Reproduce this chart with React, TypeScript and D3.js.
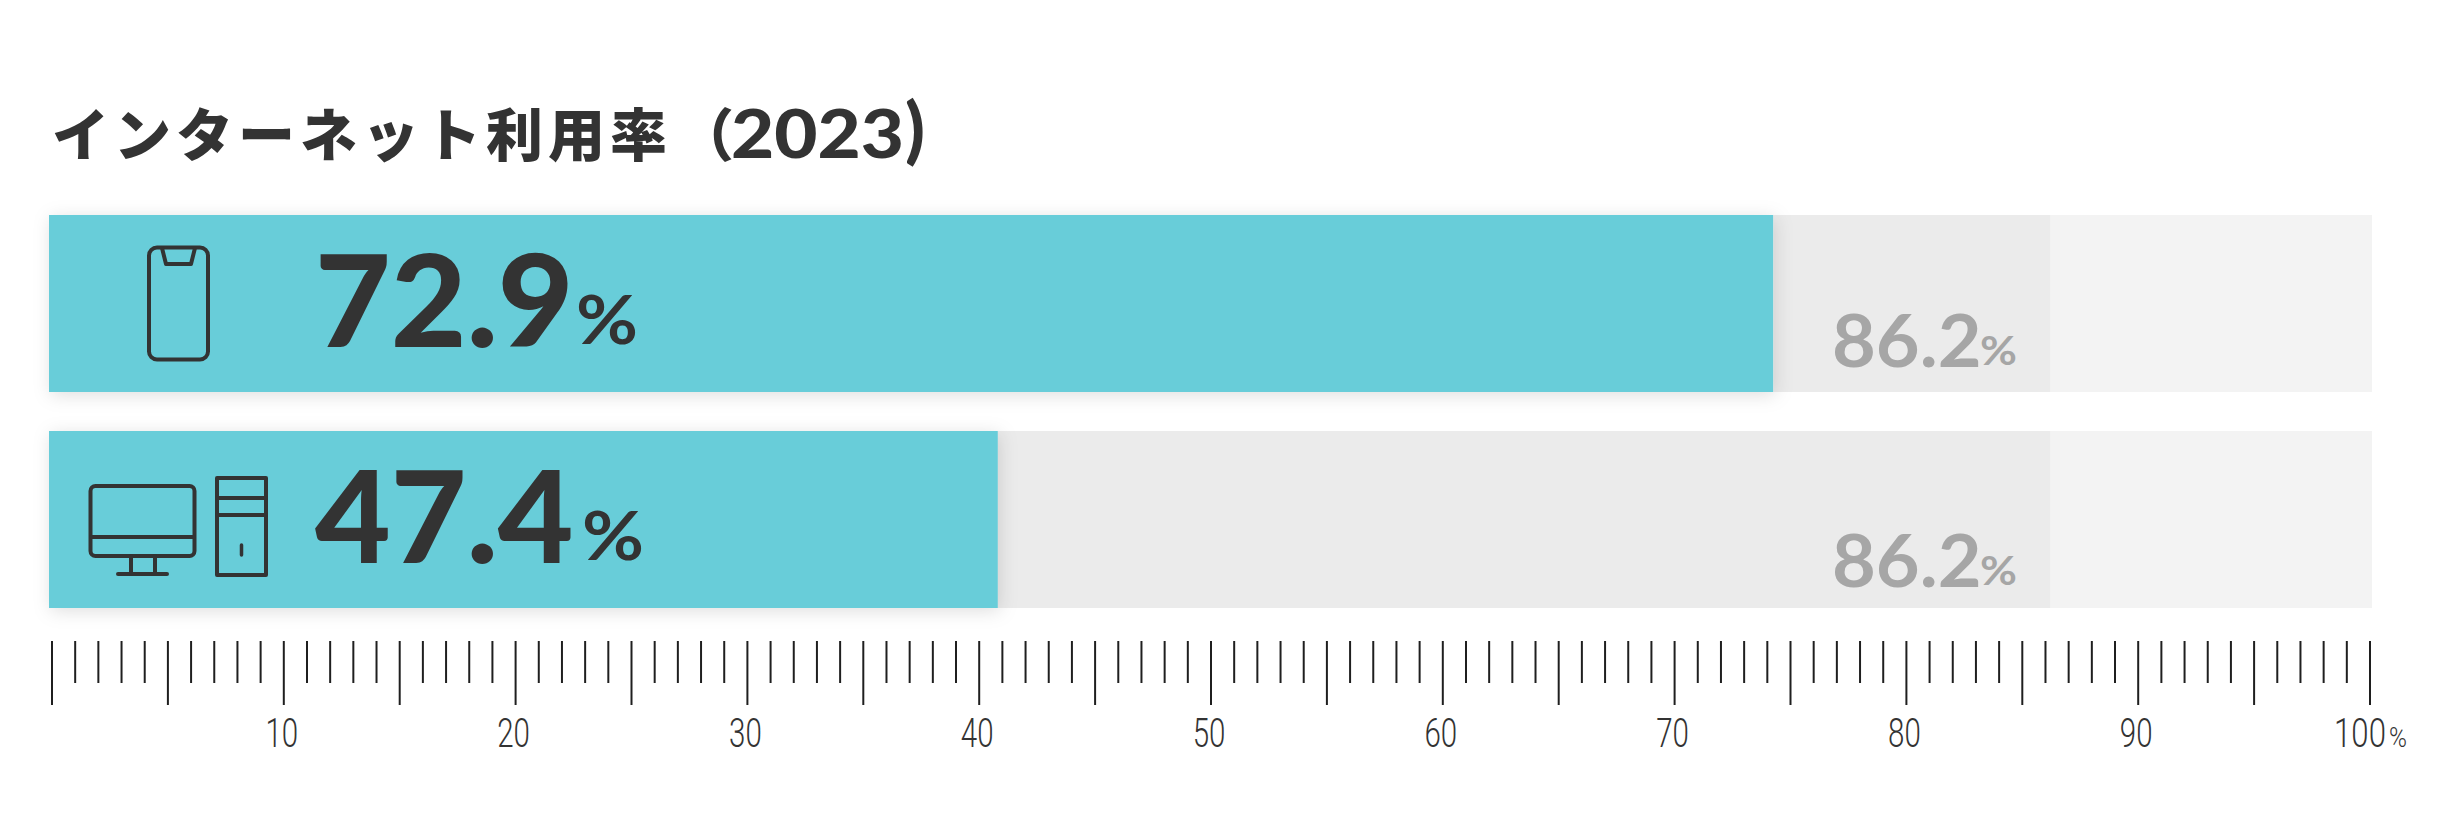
import React from "react";
import * as d3 from "d3";

const WIDTH = 2455;
const HEIGHT = 838;
const titleJa = "インターネット利用率";
const titleYear = "2023";
const rows = ["smartphone", "pc"];
const rowLabels = ["72.9", "47.4"];
const barExtents = [74.25, 40.8];
const referenceLabel = "86.2";
const referenceValue = 86.2;
const axisMax = 100;
const minorTicks = d3.range(0, axisMax + 1);
const labelledTicks = [10, 20, 30, 40, 50, 60, 70, 80, 90];

const DARK = "#333333";
const TEAL = "#67cdd9";
const GREY = "#a6a6a6";
const NUM = "Lato, sans-serif";
const THIN = "Roboto, sans-serif";
const JA = "'Noto Sans CJK JP', sans-serif";

const x = d3.scaleLinear().domain([0, axisMax]).range([52, 2370]);
const y = d3.scaleBand<string>().domain(rows).range([215, 608]).paddingInner(0.1807).paddingOuter(0);

function ScaledText({ px, py, sx = 1, anchor = "start", size, weight, fill, family, children }: any) {
  return (
    <text
      transform={`translate(${px},${py}) scale(${sx},1)`}
      textAnchor={anchor}
      fontSize={size}
      fontWeight={weight}
      fill={fill}
      fontFamily={family}
    >
      {children}
    </text>
  );
}

function PhoneIcon() {
  return (
    <g fill="none" stroke={DARK} strokeWidth={4} strokeLinejoin="round">
      <rect x={149} y={247.5} width={59} height={112} rx={8} />
      <path d="M162 248 L166 264 H191 L195 248" />
    </g>
  );
}

function PcIcon() {
  return (
    <g fill="none" stroke={DARK} strokeWidth={4} strokeLinejoin="round" strokeLinecap="round">
      <rect x={90.5} y={486} width={104} height={70} rx={5} />
      <path d="M91 537 H194 M131 556 V574 M155 556 V574 M118 574 H167" />
      <rect x={217} y={478} width={49} height={97} />
      <path d="M217 498 H266 M217 515 H266" />
      <path d="M241.5 545 V555" strokeWidth={3.5} />
    </g>
  );
}

export default function App() {
  const bw = y.bandwidth();
  return (
    <svg
      width={WIDTH}
      height={HEIGHT}
      viewBox={`0 0 ${WIDTH} ${HEIGHT}`}
      style={{ position: "absolute", left: 0, top: 0, display: "block", background: "#fff" }}
    >
      <defs>
        <filter id="barShadow" x="-5%" y="-30%" width="110%" height="160%">
          <feDropShadow dx={2} dy={3} stdDeviation={9} floodColor="#000" floodOpacity={0.13} />
        </filter>
      </defs>

      <text x={52} y={156} fontFamily={JA} fontWeight={900} fontSize={57} letterSpacing={5} fill={DARK}>
        {titleJa}
      </text>
      <text x={677} y={156} fontFamily={JA} fontWeight={900} fontSize={57} fill={DARK}>（</text>
      <ScaledText px={731} py={158} size={66} weight={900} fill={DARK} family={NUM} sx={1.13}>{titleYear}</ScaledText>
      <text x={905} y={155} fontFamily={NUM} fontWeight={900} fontSize={72} fill={DARK}>)</text>

      {rows.map((r, i) => {
        const top = y(r)!;
        const base = top + 132;
        return (
          <g key={r}>
            <rect x={49} y={top} width={2372 - 49} height={bw} fill="#f3f3f3" />
            <rect x={49} y={top} width={x(referenceValue) - 49} height={bw} fill="#ebebeb" />
            <rect x={49} y={top} width={x(barExtents[i]) - 49} height={bw} fill={TEAL} filter="url(#barShadow)" />
            <ScaledText px={315} py={base} size={127} weight={900} fill={DARK} family={NUM} sx={1.03}>{rowLabels[i]}</ScaledText>
            <ScaledText px={i === 0 ? 576 : 582} py={base - 3} size={67} weight={700} fill={DARK} family={NUM} sx={1.13}>%</ScaledText>
            <ScaledText px={1832} py={top + 152 + i * 4} size={72} weight={700} fill={GREY} family={NUM} sx={1.05}>{referenceLabel}</ScaledText>
            <ScaledText px={1980} py={top + 150 + i * 4} size={41} weight={700} fill={GREY} family={NUM} sx={1.1}>%</ScaledText>
          </g>
        );
      })}

      <PhoneIcon />
      <PcIcon />

      <g stroke="#1f1f1f" strokeWidth={2}>
        {minorTicks.map((t) => (
          <line key={t} x1={x(t)} x2={x(t)} y1={641} y2={t % 5 === 0 ? 705 : 683} />
        ))}
      </g>
      {labelledTicks.map((t) => (
        <ScaledText key={t} px={x(t) - 2} py={747} anchor="middle" sx={0.72} size={41} weight={300} fill={DARK} family={THIN}>
          {t}
        </ScaledText>
      ))}
      <ScaledText px={x(100) - 10} py={747} anchor="middle" sx={0.76} size={41} weight={300} fill={DARK} family={THIN}>100</ScaledText>
      <ScaledText px={2389} py={747} size={27} weight={300} fill={DARK} family={THIN} sx={0.9}>%</ScaledText>
    </svg>
  );
}
